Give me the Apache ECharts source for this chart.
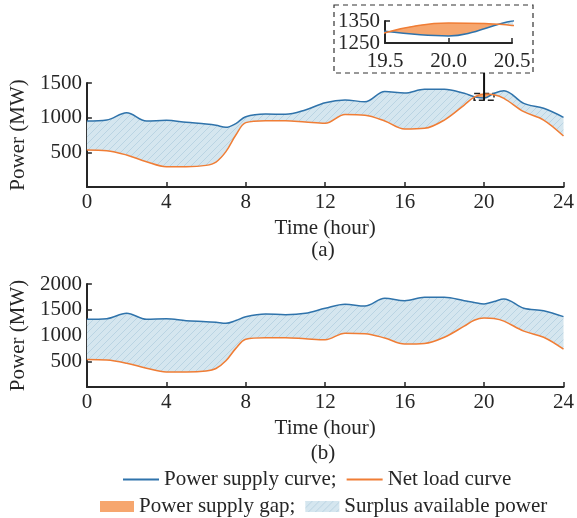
<!DOCTYPE html>
<html><head><meta charset="utf-8">
<script src="https://cdn.jsdelivr.net/npm/echarts@6/dist/echarts.min.js"></script>
<style>html,body{margin:0;padding:0;background:#fff}#c{width:577px;height:518px}</style>
</head><body><div id="c"></div>
<script>
// ---- data ----
const hours   = [0,1,2,3,4,5,6,6.5,7,7.5,8,9,10,11,12,13,14,15,16,17,18,19,19.5,20,20.5,21,22,23,24];
const supplyA = [952,966,1071,952,962,933,908,890,860,915,1014,1052,1048,1110,1216,1255,1230,1378,1355,1409,1409,1351,1303,1282,1350,1389,1207,1135,1005];
const supplyB = [1314,1327,1431,1314,1327,1288,1269,1255,1237,1290,1366,1418,1405,1431,1528,1606,1573,1722,1676,1742,1742,1676,1640,1612,1660,1709,1528,1482,1366];
const netLoad = [534,524,461,365,293,293,312,360,510,750,928,957,957,937,918,1045,1035,952,836,846,966,1182,1297,1341,1330,1279,1086,966,735];
const gapHoursA = [19.5, 20.41];   // interval where net load exceeds supply in (a)
const xTicks = {min:0, max:24, step:4};
const yTicksA = {min:0, max:1500, step:500};
const yTicksB = {min:0, max:2000, step:500};
const insetX = {min:19.5, max:20.5, step:0.5};
const insetY = {min:1250, max:1350, step:100};
const panelLabels = ['(a)','(b)'];
const xName = 'Time (hour)', yName = 'Power (MW)';
const names = {supply:'Power supply curve', load:'Net load curve', gap:'Power supply gap', surplus:'Surplus available power'};

// ---- styles ----
const FONT = 'Liberation Serif';
const TXT = '#262626';
const BLUE = '#2f73ab', ORANGE = '#f07d35', GAPC = '#f6a66e';

function hatch(){
  const c = document.createElement('canvas'); c.width = 7; c.height = 7;
  const g = c.getContext('2d');
  g.fillStyle = '#d5e6ef'; g.fillRect(0,0,7,7);
  g.strokeStyle = '#b3cfdf'; g.lineWidth = 0.8;
  g.beginPath();
  g.moveTo(0,7); g.lineTo(7,0);
  g.moveTo(-1,1); g.lineTo(1,-1);
  g.moveTo(6,8); g.lineTo(8,6);
  g.stroke();
  return c;
}
const HATCH = {image: hatch(), repeat: 'repeat'};

// value first, hour second (encode maps them), so that stacking acts on the value dimension
function pairs(ys){ return hours.map((h,i)=>[ys[i], h]); }

function gapGradient(range){
  const h0 = hours[0], h1 = hours[hours.length-1];
  const a = (range[0]-h0)/(h1-h0), b = (range[1]-h0)/(h1-h0);
  const T = 'rgba(246,166,110,0)';
  return {type:'linear', x:0, y:0, x2:1, y2:0, colorStops:[
    {offset:0, color:T}, {offset:a, color:T}, {offset:a, color:GAPC},
    {offset:b, color:GAPC}, {offset:b, color:T}, {offset:1, color:T}]};
}

function axisBase(){
  return {
    axisLine:{show:true, onZero:false, lineStyle:{color:TXT, width:2}},
    axisTick:{show:true, inside:true, length:5, lineStyle:{color:TXT, width:1.5}},
    splitLine:{show:false},
    axisLabel:{fontFamily:FONT, fontSize:21, color:TXT, margin:5},
    nameTextStyle:{fontFamily:FONT, fontSize:21, color:TXT}
  };
}

function seriesFor(gi, supply, gapRange, extra){
  const diff = supply.map((s,i)=>s - netLoad[i]);
  const common = {type:'line', xAxisIndex:gi, yAxisIndex:gi, smooth:0.35, symbol:'none', showSymbol:false, clip:true, silent:true,
    encode:{x:1, y:0}, stackStrategy:'all'};
  const out = [
    Object.assign({}, common, {name:'_base'+gi, stack:'s'+gi, data:pairs(netLoad), lineStyle:{opacity:0}}),
    Object.assign({}, common, {name:names.surplus, stack:'s'+gi, data:pairs(diff), lineStyle:{opacity:0}, areaStyle:{color:HATCH, opacity:1}, itemStyle:{color:'#c9dfeb'}})
  ];
  if (gapRange) {
    out.push(Object.assign({}, common, {name:'_gbase'+gi, stack:'g'+gi, data:pairs(netLoad), lineStyle:{opacity:0}}));
    out.push(Object.assign({}, common, {name:names.gap, stack:'g'+gi, data:pairs(diff), lineStyle:{opacity:0}, areaStyle:{color:gapGradient(gapRange), opacity:1}, itemStyle:{color:GAPC}}));
  }
  const sup = Object.assign({}, common, {name:names.supply, data:pairs(supply), lineStyle:{color:BLUE, width:1.5}, itemStyle:{color:BLUE}});
  if (extra) Object.assign(sup, extra);
  out.push(sup);
  out.push(Object.assign({}, common, {name:names.load, data:pairs(netLoad), lineStyle:{color:ORANGE, width:1.5}, itemStyle:{color:ORANGE}}));
  return out;
}

const grids = [
  {left:81, right:12, top:83, height:104},
  {left:81, right:12, top:284, height:103},
  {left:385, width:127, top:21, height:22}
];

function mkX(gi, t, withName, fmt, margin){
  const a = axisBase();
  return Object.assign(a, {type:'value', gridIndex:gi, min:t.min, max:t.max, interval:t.step,
    name: withName ? xName : '', nameLocation:'middle', nameGap:31,
    axisLabel:Object.assign(a.axisLabel, {margin: margin || 5, formatter: fmt || (v=>String(v))})});
}
function mkY(gi, t, withName, hideZero){
  const a = axisBase();
  return Object.assign(a, {type:'value', gridIndex:gi, min:t.min, max:t.max, interval:t.step,
    name: withName ? yName : '', nameLocation:'middle', nameGap:51, nameRotate:90,
    axisLabel:Object.assign(a.axisLabel, {formatter: v => (hideZero && v===0) ? '' : String(v)})});
}

const markBox = {
  markArea:{silent:true, itemStyle:{color:'rgba(0,0,0,0)', borderColor:'#222', borderWidth:1.5, borderType:'dashed'},
    data:[[{xAxis:insetX.min, yAxis:insetY.max}, {xAxis:insetX.max, yAxis:insetY.min}]]}
};

const series = [].concat(
  seriesFor(0, supplyA, gapHoursA, markBox),
  seriesFor(1, supplyB, null),
  seriesFor(2, supplyA, gapHoursA)
);

const legendFmt = n => (n===names.supply || n===names.gap) ? n + ';' : n;

const option = {
  animation:false,
  backgroundColor:'#fff',
  textStyle:{fontFamily:FONT},
  grid:grids,
  xAxis:[mkX(0,xTicks,true), mkX(1,xTicks,true), mkX(2,insetX,false,v=>v.toFixed(1),8)],
  yAxis:[mkY(0,yTicksA,true,true), mkY(1,yTicksB,true,true), mkY(2,insetY,false,false)],
  title:[
    {text:panelLabels[0], left:323, top:240, textAlign:'center', padding:0, textStyle:{fontFamily:FONT, fontSize:21, fontWeight:'normal', color:TXT}},
    {text:panelLabels[1], left:323, top:443, textAlign:'center', padding:0, textStyle:{fontFamily:FONT, fontSize:21, fontWeight:'normal', color:TXT}}
  ],
  legend:[
    {left:123, top:469, padding:0, itemGap:10, itemWidth:36, itemHeight:2, icon:'rect', formatter:legendFmt,
     textStyle:{fontFamily:FONT, fontSize:21, color:TXT},
     data:[{name:names.supply, itemStyle:{color:BLUE}}, {name:names.load, itemStyle:{color:ORANGE}}]},
    {left:100, top:496, padding:0, itemGap:10, itemWidth:34, itemHeight:11, icon:'rect', formatter:legendFmt,
     textStyle:{fontFamily:FONT, fontSize:21, color:TXT},
     data:[{name:names.gap, itemStyle:{color:GAPC}}, {name:names.surplus, itemStyle:{color:HATCH}}]}
  ],
  series:series
};

const chart = echarts.init(document.getElementById('c'), null, {renderer:'canvas'});
chart.setOption(option);

// inset frame and connector (decoration), anchored to the data box via the axis scale
const p = chart.convertToPixel({gridIndex:0}, [20, insetY.max]);
const pb = chart.convertToPixel({gridIndex:0}, [20, insetY.min]);
chart.setOption({graphic:[
  {type:'rect', shape:{x:334, y:5, width:199, height:68}, style:{fill:null, stroke:'#333', lineWidth:1.2, lineDash:[5,4]}, silent:true, z:10},
  {type:'line', shape:{x1:p[0], y1:73, x2:p[0], y2:pb[1]}, style:{stroke:'#111', lineWidth:2}, silent:true, z:10}
]});
</script>
</body></html>
